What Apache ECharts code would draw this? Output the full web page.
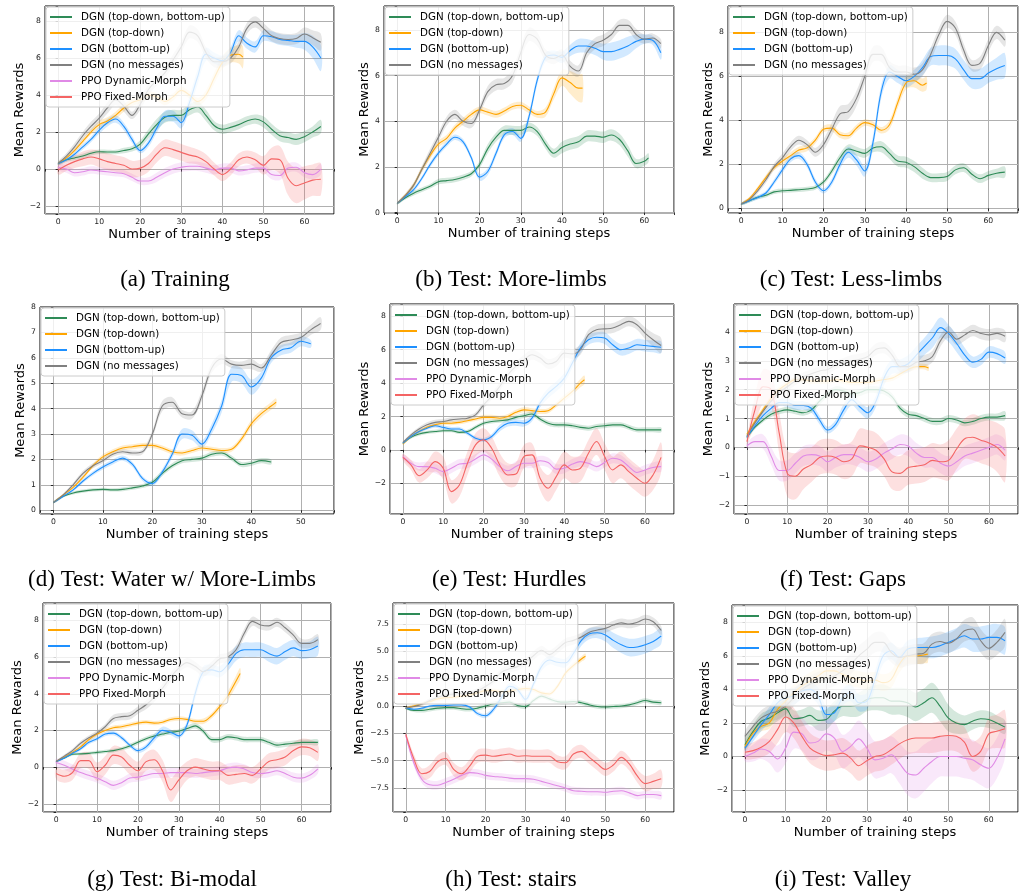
<!DOCTYPE html>
<html>
<head>
<meta charset="utf-8">
<script src="https://cdn.jsdelivr.net/npm/echarts@6/dist/echarts.min.js"></script>
<style>
  html, body { margin: 0; padding: 0; background: #ffffff; }
  #chart { width: 1021px; height: 893px; }
</style>
</head>
<body>
<div id="chart"></div>
<script>
// Mean reward per run, sampled every 2 training steps (the last entry may sit on an odd step).
// Each "...Sd" array is the half-width of the shaded band around the matching mean curve.

// (a) Training
const trainTdBu     = [0.3,0.5,0.6,0.7,0.85,0.93,0.92,0.92,1.0,1.1, 1.35,1.9,2.4,2.8,2.9,2.9,3.2,3.35,2.9,2.35, 2.15,2.25,2.4,2.6,2.7,2.55,2.15,1.8,1.7,1.6, 1.75,2.0,2.3];
const trainTdBuSd   = [0.08,0.1,0.12,0.12,0.12,0.12,0.12,0.12,0.15,0.15, 0.2,0.25,0.3,0.3,0.3,0.3,0.3,0.3,0.3,0.25, 0.25,0.25,0.25,0.25,0.25,0.3,0.3,0.3,0.3,0.3, 0.3,0.3,0.35];
const trainTd       = [0.3,0.6,1.0,1.5,2.0,2.4,2.6,2.9,3.3,3.6, 3.75,4.0,3.9,3.65,3.9,4.25,4.0,3.65,4.0,4.9, 5.75,6.15,6.2,6.05];
const trainTdSd     = [0.08,0.1,0.12,0.15,0.15,0.2,0.2,0.2,0.2,0.2, 0.2,0.2,0.2,0.2,0.2,0.2,0.2,0.2,0.25,0.3, 0.35,0.4,0.5,0.6];
const trainBu       = [0.3,0.5,0.8,1.2,1.6,2.1,2.5,2.7,2.3,1.6, 1.0,1.4,2.2,2.85,2.85,2.5,3.6,5.0,6.2,6.0, 5.85,6.3,7.2,6.8,6.6,7.2,7.15,7.0,6.95,6.9, 6.9,6.6,6.0];
const trainBuSd     = [0.08,0.1,0.12,0.15,0.15,0.2,0.2,0.2,0.2,0.2, 0.15,0.2,0.25,0.3,0.3,0.3,0.35,0.4,0.35,0.3, 0.3,0.3,0.3,0.3,0.3,0.3,0.3,0.3,0.3,0.35, 0.45,0.6,0.7];
const trainNoMsg    = [0.3,0.7,1.2,1.8,2.3,2.75,3.3,3.75,3.4,2.9, 3.5,4.3,4.8,5.2,5.9,6.6,7.4,7.2,6.3,5.8, 5.8,6.0,6.6,7.6,7.95,7.6,7.2,7.05,7.0,7.05, 7.3,7.1,6.85];
const trainNoMsgSd  = [0.1,0.15,0.2,0.2,0.25,0.25,0.3,0.3,0.3,0.2, 0.3,0.3,0.3,0.3,0.3,0.3,0.35,0.35,0.3,0.3, 0.3,0.3,0.3,0.3,0.3,0.3,0.3,0.3,0.3,0.3, 0.35,0.4,0.45];
const trainPpoDyn   = [0.1,0.0,-0.2,-0.15,-0.05,-0.1,-0.15,-0.2,-0.25,-0.45, -0.65,-0.65,-0.45,-0.2,0.0,0.1,0.15,0.15,0.05,-0.05, 0.05,0.05,-0.1,-0.05,0.05,0.05,-0.3,-0.35,0.05,0.1, -0.2,-0.3,0.0];
const trainPpoDynSd = [0.15,0.2,0.2,0.2,0.2,0.2,0.2,0.2,0.2,0.2, 0.2,0.2,0.25,0.25,0.25,0.25,0.25,0.25,0.25,0.25, 0.25,0.25,0.25,0.25,0.25,0.25,0.25,0.25,0.25,0.25, 0.25,0.25,0.3];
const trainPpoFix   = [-0.05,0.2,0.4,0.55,0.65,0.55,0.4,0.3,0.2,0.0, 0.05,0.3,0.8,1.15,1.05,0.9,0.75,0.65,0.4,0.0, -0.3,0.0,0.5,0.65,0.5,0.2,0.55,0.5,-0.5,-0.9, -0.75,-0.6,-0.55];
const trainPpoFixSd = [0.25,0.3,0.35,0.4,0.4,0.45,0.45,0.45,0.45,0.45, 0.45,0.45,0.45,0.45,0.45,0.45,0.45,0.4,0.4,0.35, 0.35,0.35,0.35,0.35,0.4,0.5,0.6,0.75,0.9,0.95, 0.9,0.85,0.85];

// (b) Test: More-limbs
const moreLimbsTdBu    = [0.4,0.65,0.85,1.0,1.15,1.35,1.4,1.45,1.55,1.7, 2.1,2.8,3.3,3.6,3.6,3.6,3.75,3.55,3.0,2.6, 2.85,3.0,3.1,3.35,3.35,3.3,3.4,3.2,2.7,2.15, 2.25,2.4];
const moreLimbsTdBuSd  = [0.05,0.08,0.1,0.1,0.1,0.12,0.12,0.12,0.12,0.12, 0.15,0.2,0.2,0.2,0.2,0.2,0.2,0.2,0.2,0.2, 0.25,0.25,0.25,0.25,0.25,0.25,0.25,0.25,0.25,0.2, 0.2,0.2];
const moreLimbsTd      = [0.4,0.75,1.2,1.9,2.5,3.0,3.25,3.7,4.0,4.3, 4.5,4.4,4.3,4.45,4.65,4.7,4.5,4.3,4.4,5.2, 5.9,5.7,5.45,5.45];
const moreLimbsTdSd    = [0.05,0.08,0.1,0.12,0.15,0.15,0.15,0.15,0.15,0.15, 0.15,0.15,0.15,0.15,0.15,0.15,0.15,0.15,0.2,0.25, 0.35,0.5,0.6,0.6];
const moreLimbsBu      = [0.4,0.7,1.0,1.5,2.1,2.6,3.0,3.3,3.1,2.4, 1.55,1.8,2.6,3.4,3.55,3.25,4.2,5.8,6.8,6.9, 6.8,7.1,7.3,7.3,7.2,7.05,7.05,7.15,7.3,7.5, 7.6,7.55,7.0];
const moreLimbsBuSd    = [0.05,0.08,0.1,0.1,0.12,0.12,0.12,0.12,0.12,0.12, 0.15,0.15,0.15,0.15,0.15,0.15,0.2,0.2,0.2,0.2, 0.25,0.25,0.3,0.3,0.3,0.35,0.4,0.4,0.4,0.3, 0.2,0.2,0.3];
const moreLimbsNoMsg   = [0.4,0.75,1.2,1.9,2.6,3.3,4.0,4.3,4.0,3.9, 4.5,5.3,5.6,5.65,6.0,7.0,7.8,7.6,6.9,6.75, 6.9,6.4,6.2,7.0,7.4,7.55,7.8,8.2,8.2,7.8, 7.6,7.65,7.4];
const moreLimbsNoMsgSd = [0.05,0.1,0.12,0.15,0.2,0.2,0.2,0.2,0.2,0.2, 0.2,0.25,0.25,0.25,0.3,0.3,0.3,0.3,0.25,0.25, 0.25,0.25,0.25,0.25,0.25,0.25,0.25,0.25,0.25,0.25, 0.2,0.2,0.2];

// (c) Test: Less-limbs
const lessLimbsTdBu    = [0.2,0.35,0.5,0.6,0.75,0.8,0.82,0.85,0.88,0.95, 1.2,1.7,2.3,2.7,2.6,2.5,2.75,2.8,2.5,2.15, 2.1,1.9,1.6,1.4,1.4,1.45,1.75,1.85,1.55,1.35, 1.5,1.6,1.65];
const lessLimbsTdBuSd  = [0.05,0.08,0.08,0.1,0.1,0.1,0.1,0.1,0.1,0.1, 0.12,0.15,0.2,0.2,0.2,0.2,0.2,0.25,0.25,0.25, 0.25,0.25,0.25,0.2,0.2,0.2,0.2,0.2,0.2,0.2, 0.2,0.2,0.25];
const lessLimbsTd      = [0.2,0.45,0.9,1.4,1.85,2.15,2.4,2.65,2.75,3.1, 3.6,3.65,3.35,3.3,3.65,3.9,3.8,3.55,3.8,4.8, 5.7,5.8,5.6,5.7];
const lessLimbsTdSd    = [0.05,0.08,0.1,0.12,0.12,0.15,0.15,0.15,0.15,0.15, 0.15,0.15,0.15,0.15,0.15,0.15,0.15,0.15,0.2,0.25, 0.3,0.3,0.3,0.3];
const lessLimbsBu      = [0.2,0.35,0.5,0.7,1.2,1.75,2.25,2.4,2.0,1.2, 0.8,1.2,2.0,2.55,2.2,1.7,3.0,5.3,6.2,6.0, 5.8,6.0,6.4,6.9,6.95,6.95,6.8,6.3,5.9,5.9, 6.15,6.35,6.5];
const lessLimbsBuSd    = [0.05,0.08,0.1,0.1,0.12,0.15,0.15,0.15,0.15,0.15, 0.12,0.15,0.2,0.25,0.25,0.25,0.3,0.3,0.3,0.3, 0.3,0.3,0.35,0.4,0.45,0.45,0.45,0.45,0.45,0.45, 0.45,0.5,0.55];
const lessLimbsNoMsg   = [0.2,0.4,0.8,1.3,1.9,2.3,2.8,3.1,2.9,2.55, 2.9,3.6,4.3,4.4,5.0,6.0,7.0,7.0,6.4,6.2, 6.2,6.1,6.3,7.0,7.9,8.5,8.2,7.2,6.5,6.6, 7.4,8.0,7.65];
const lessLimbsNoMsgSd = [0.05,0.1,0.12,0.15,0.15,0.2,0.2,0.2,0.2,0.2, 0.25,0.3,0.35,0.35,0.35,0.35,0.35,0.35,0.3,0.3, 0.3,0.3,0.3,0.3,0.3,0.3,0.3,0.3,0.25,0.3, 0.3,0.3,0.3];

// (d) Test: Water w/ More-Limbs
const waterTdBu    = [0.3,0.55,0.68,0.75,0.8,0.82,0.8,0.82,0.88,0.95, 1.1,1.45,1.75,1.95,2.0,2.05,2.2,2.25,2.05,1.8, 1.85,1.95,1.9];
const waterTdBuSd  = [0.04,0.05,0.06,0.06,0.06,0.06,0.06,0.07,0.08,0.08, 0.1,0.1,0.1,0.1,0.1,0.1,0.1,0.1,0.1,0.1, 0.1,0.1,0.1];
const waterTd      = [0.3,0.6,0.9,1.3,1.75,2.1,2.3,2.45,2.5,2.55, 2.55,2.45,2.3,2.25,2.35,2.45,2.4,2.35,2.4,2.8, 3.4,3.8,4.1,4.25];
const waterTdSd    = [0.04,0.05,0.06,0.08,0.08,0.1,0.1,0.1,0.1,0.1, 0.1,0.1,0.1,0.1,0.1,0.1,0.1,0.1,0.1,0.12, 0.15,0.15,0.15,0.15];
const waterBu      = [0.3,0.55,0.8,1.15,1.45,1.7,1.9,2.05,1.8,1.25, 1.05,1.5,2.2,3.0,2.95,2.6,3.2,4.1,5.35,5.3, 4.85,5.2,6.0,6.3,6.4,6.65,6.55];
const waterBuSd    = [0.04,0.05,0.06,0.08,0.08,0.1,0.1,0.1,0.1,0.1, 0.1,0.12,0.15,0.2,0.2,0.15,0.2,0.25,0.3,0.3, 0.3,0.25,0.2,0.2,0.2,0.2,0.15];
const waterNoMsg   = [0.3,0.6,1.0,1.45,1.75,1.95,2.2,2.3,2.25,2.3, 3.0,4.1,4.25,3.8,3.75,4.5,5.6,5.95,5.75,5.7, 5.75,5.6,6.1,6.6,6.7,6.8,7.1,7.35];
const waterNoMsgSd = [0.04,0.06,0.08,0.1,0.1,0.1,0.1,0.1,0.1,0.1, 0.15,0.2,0.2,0.15,0.15,0.2,0.2,0.2,0.15,0.15, 0.2,0.15,0.2,0.2,0.2,0.2,0.2,0.25];

// (e) Test: Hurdles
const hurdlesTdBu     = [0.4,0.75,0.95,1.05,1.1,1.15,1.15,1.05,1.1,1.35, 1.6,1.7,1.75,1.8,1.95,2.05,2.15,1.85,1.6,1.5, 1.5,1.45,1.35,1.3,1.4,1.45,1.5,1.5,1.35,1.2, 1.2,1.2,1.2];
const hurdlesTdBuSd   = [0.05,0.08,0.1,0.1,0.1,0.1,0.1,0.1,0.1,0.12, 0.12,0.12,0.12,0.12,0.12,0.15,0.15,0.15,0.15,0.15, 0.15,0.15,0.15,0.15,0.15,0.15,0.15,0.15,0.15,0.15, 0.15,0.15,0.15];
const hurdlesTd       = [0.35,0.8,1.1,1.35,1.5,1.6,1.6,1.65,1.75,1.85, 1.95,1.95,1.9,2.0,2.25,2.4,2.35,2.3,2.35,2.7, 3.1,3.5,4.0,4.2];
const hurdlesTdSd     = [0.05,0.08,0.1,0.1,0.1,0.12,0.12,0.12,0.12,0.12, 0.15,0.15,0.15,0.15,0.15,0.15,0.15,0.15,0.15,0.15, 0.2,0.2,0.25,0.25];
const hurdlesBu       = [0.4,0.8,1.1,1.3,1.45,1.35,1.25,1.25,1.0,0.7, 0.6,0.8,1.3,1.6,1.65,1.6,1.9,2.8,3.4,3.8, 4.3,5.2,6.1,6.6,6.75,6.7,6.3,6.0,6.1,6.3, 6.25,6.2,6.15];
const hurdlesBuSd     = [0.05,0.08,0.1,0.1,0.12,0.12,0.12,0.12,0.12,0.12, 0.12,0.15,0.2,0.2,0.2,0.2,0.2,0.25,0.3,0.3, 0.3,0.3,0.3,0.3,0.3,0.35,0.35,0.35,0.35,0.35, 0.35,0.35,0.35];
const hurdlesNoMsg    = [0.45,0.9,1.25,1.5,1.65,1.7,1.8,1.85,1.9,2.1, 2.7,3.2,3.8,4.5,5.0,5.4,5.7,5.5,5.15,5.3, 5.8,5.75,6.0,6.9,7.2,7.25,7.3,7.5,7.7,7.5, 7.0,6.6,6.25];
const hurdlesNoMsgSd  = [0.05,0.1,0.12,0.15,0.15,0.15,0.15,0.15,0.15,0.15, 0.2,0.2,0.25,0.25,0.25,0.3,0.3,0.3,0.3,0.3, 0.3,0.3,0.3,0.3,0.3,0.3,0.3,0.3,0.3,0.3, 0.35,0.4,0.45];
const hurdlesPpoDyn   = [-0.4,-0.8,-1.0,-1.0,-1.1,-1.3,-1.1,-0.85,-0.8,-0.55, -0.3,-0.55,-1.0,-1.25,-1.0,-0.8,-0.8,-0.65,-0.75,-1.15, -1.1,-0.85,-0.7,-0.8,-1.0,-0.75,-0.5,-0.6,-1.0,-1.35, -1.2,-1.05,-1.0];
const hurdlesPpoDynSd = [0.15,0.2,0.25,0.3,0.3,0.3,0.3,0.3,0.3,0.3, 0.3,0.3,0.3,0.3,0.3,0.3,0.3,0.3,0.3,0.3, 0.3,0.3,0.3,0.3,0.3,0.3,0.3,0.3,0.3,0.3, 0.3,0.3,0.3];
const hurdlesPpoFix   = [-0.45,-0.9,-1.55,-1.2,-0.7,-1.1,-2.5,-2.1,-0.8,0.3, 0.6,0.1,-0.9,-1.5,-1.45,-0.4,-0.3,-1.7,-2.3,-1.6, -0.9,-1.2,-1.1,-0.2,0.5,-0.4,-1.2,-0.9,-1.3,-1.7, -2.0,-1.5,-0.45];
const hurdlesPpoFixSd = [0.2,0.3,0.4,0.5,0.6,0.7,0.7,0.7,0.7,0.7, 0.7,0.7,0.7,0.7,0.7,0.7,0.7,0.7,0.8,0.8, 0.8,0.8,0.8,0.8,0.8,0.8,0.8,0.8,0.8,0.8, 0.8,0.9,0.9];

// (f) Test: Gaps
const gapsTdBu     = [0.35,0.7,0.95,1.15,1.25,1.3,1.25,1.2,1.3,1.6, 1.85,2.0,1.95,1.85,1.9,2.0,2.0,1.95,1.75,1.35, 1.15,1.1,1.0,0.9,0.9,1.0,0.95,0.85,0.9,1.0, 1.05,1.05,1.1];
const gapsTdBuSd   = [0.05,0.07,0.08,0.1,0.1,0.1,0.1,0.1,0.1,0.12, 0.12,0.12,0.12,0.12,0.12,0.12,0.12,0.12,0.12,0.12, 0.12,0.12,0.12,0.12,0.12,0.12,0.12,0.12,0.12,0.12, 0.12,0.12,0.15];
const gapsTd       = [0.45,0.9,1.3,1.7,2.0,2.2,2.35,2.35,2.3,2.3, 2.3,2.35,2.3,2.25,2.25,2.25,2.3,2.35,2.4,2.55, 2.7,2.8,2.8,2.75];
const gapsTdSd     = [0.05,0.08,0.1,0.1,0.1,0.1,0.1,0.1,0.1,0.1, 0.1,0.1,0.1,0.1,0.1,0.1,0.1,0.1,0.1,0.1, 0.1,0.1,0.1,0.1];
const gapsBu       = [0.35,0.75,1.1,1.35,1.55,1.55,1.45,1.45,1.35,0.95, 0.6,0.8,1.3,1.65,1.4,1.2,1.6,2.4,2.8,2.8, 2.9,3.2,3.5,3.8,4.15,3.95,3.6,3.2,2.95,3.05, 3.3,3.25,3.1];
const gapsBuSd     = [0.05,0.08,0.1,0.12,0.12,0.15,0.15,0.15,0.15,0.15, 0.12,0.15,0.2,0.2,0.2,0.2,0.2,0.25,0.25,0.25, 0.3,0.3,0.3,0.35,0.35,0.3,0.3,0.25,0.2,0.2, 0.2,0.2,0.2];
const gapsNoMsg    = [0.4,0.85,1.25,1.6,1.9,2.1,2.3,2.45,2.55,2.65, 2.7,2.85,2.95,3.0,3.05,3.15,3.4,3.45,3.2,2.8, 2.8,2.95,3.0,3.15,3.7,4.0,3.75,3.9,4.05,3.95, 3.9,3.95,3.85];
const gapsNoMsgSd  = [0.05,0.08,0.1,0.12,0.12,0.15,0.15,0.15,0.15,0.15, 0.15,0.15,0.15,0.2,0.2,0.2,0.2,0.2,0.2,0.2, 0.2,0.2,0.2,0.2,0.2,0.2,0.2,0.2,0.2,0.2, 0.2,0.2,0.2];
const gapsPpoDyn   = [0.05,0.2,0.2,-0.3,-0.8,-0.8,-0.55,-0.3,-0.25,-0.3, -0.5,-0.35,-0.25,-0.25,-0.35,-0.5,-0.4,-0.2,-0.05,0.1, 0.05,-0.2,-0.35,-0.35,-0.55,-0.65,-0.5,-0.3,-0.2,-0.1, 0.0,0.1,-0.1];
const gapsPpoDynSd = [0.1,0.2,0.25,0.3,0.35,0.35,0.35,0.35,0.35,0.35, 0.35,0.35,0.35,0.35,0.35,0.35,0.35,0.35,0.35,0.35, 0.35,0.35,0.35,0.35,0.35,0.35,0.35,0.35,0.35,0.35, 0.35,0.35,0.35];
const gapsPpoFix   = [0.2,1.3,2.1,2.0,0.5,-0.9,-1.0,-0.75,-0.6,-0.35, -0.3,-0.35,-0.5,-0.4,0.05,0.0,-0.1,-0.4,-0.85,-0.9, -0.7,-0.65,-0.6,-0.45,-0.5,-0.45,-0.05,0.3,0.35,0.25, 0.15,0.0,-0.3];
const gapsPpoFixSd = [0.1,0.5,0.6,0.6,0.7,0.8,0.8,0.7,0.6,0.6, 0.6,0.6,0.6,0.6,0.6,0.6,0.6,0.6,0.6,0.6, 0.6,0.6,0.6,0.6,0.6,0.7,0.7,0.7,0.8,0.8, 0.8,0.85,0.9];

// (g) Test: Bi-modal
const bimodalTdBu     = [0.3,0.5,0.7,0.72,0.75,0.8,0.85,0.9,1.0,1.15, 1.35,1.55,1.7,1.8,1.9,1.95,2.1,2.25,1.95,1.5, 1.5,1.65,1.6,1.5,1.5,1.5,1.35,1.2,1.25,1.3, 1.35,1.35,1.35];
const bimodalTdBuSd   = [0.05,0.06,0.08,0.08,0.08,0.1,0.1,0.1,0.1,0.12, 0.12,0.12,0.12,0.12,0.12,0.12,0.15,0.15,0.15,0.15, 0.15,0.15,0.15,0.15,0.15,0.15,0.15,0.15,0.15,0.15, 0.15,0.15,0.15];
const bimodalTd       = [0.3,0.55,0.8,1.1,1.5,1.8,2.0,2.15,2.2,2.3, 2.4,2.45,2.4,2.45,2.6,2.65,2.6,2.5,2.5,2.8, 3.3,3.9,4.7,5.1];
const bimodalTdSd     = [0.05,0.06,0.08,0.1,0.12,0.12,0.12,0.12,0.12,0.12, 0.12,0.12,0.12,0.12,0.12,0.12,0.12,0.12,0.15,0.15, 0.2,0.25,0.3,0.3];
const bimodalBu       = [0.3,0.5,0.75,1.0,1.35,1.55,1.8,1.85,1.6,1.2, 0.9,1.1,1.6,2.0,1.9,1.7,2.3,4.0,5.2,5.3, 5.2,5.6,6.2,6.4,6.4,6.4,6.2,6.05,6.3,6.5, 6.35,6.4,6.6];
const bimodalBuSd     = [0.05,0.06,0.08,0.1,0.12,0.12,0.12,0.12,0.12,0.12, 0.12,0.15,0.2,0.2,0.15,0.15,0.2,0.3,0.3,0.3, 0.3,0.35,0.4,0.4,0.4,0.4,0.45,0.45,0.45,0.45, 0.45,0.45,0.5];
const bimodalNoMsg    = [0.3,0.6,0.9,1.3,1.6,1.85,2.2,2.65,2.75,2.8, 3.1,3.4,3.8,4.3,4.9,5.4,5.7,5.5,5.2,5.5, 5.9,6.0,6.4,7.3,7.95,7.75,7.7,7.9,7.6,7.2, 6.75,6.75,6.95];
const bimodalNoMsgSd  = [0.05,0.08,0.1,0.12,0.12,0.15,0.15,0.2,0.2,0.2, 0.2,0.25,0.25,0.25,0.25,0.25,0.25,0.25,0.25,0.25, 0.25,0.25,0.25,0.25,0.25,0.25,0.25,0.25,0.25,0.25, 0.25,0.25,0.3];
const bimodalPpoDyn   = [0.25,0.1,-0.1,-0.3,-0.45,-0.6,-0.8,-1.0,-0.85,-0.6, -0.55,-0.45,-0.35,-0.35,-0.3,-0.3,-0.3,-0.35,-0.3,-0.25, -0.2,-0.05,0.0,-0.1,-0.3,-0.35,-0.3,-0.2,-0.35,-0.55, -0.6,-0.45,-0.1];
const bimodalPpoDynSd = [0.2,0.25,0.25,0.25,0.25,0.25,0.25,0.25,0.25,0.25, 0.25,0.25,0.25,0.25,0.25,0.25,0.25,0.25,0.25,0.25, 0.25,0.25,0.25,0.25,0.25,0.25,0.25,0.25,0.25,0.25, 0.25,0.25,0.25];
const bimodalPpoFix   = [-0.35,-0.5,-0.3,0.35,0.35,-0.25,0.1,0.65,0.55,0.1, -0.2,0.3,0.4,-0.2,-1.25,-0.7,-0.2,0.0,-0.1,-0.2, -0.2,-0.45,-0.4,-0.35,-0.45,-0.1,0.3,0.4,0.55,0.9, 1.1,1.05,0.8];
const bimodalPpoFixSd = [0.3,0.35,0.4,0.4,0.45,0.5,0.5,0.5,0.5,0.5, 0.5,0.5,0.55,0.6,0.65,0.6,0.5,0.5,0.5,0.5, 0.5,0.5,0.5,0.45,0.45,0.45,0.45,0.45,0.45,0.45, 0.45,0.45,0.45];

// (h) Test: stairs
const stairsTdBu     = [-0.2,-0.4,-0.4,-0.3,-0.2,-0.15,-0.15,-0.25,-0.3,-0.2, 0.0,0.2,0.3,0.35,0.05,-0.05,0.5,0.9,0.65,0.4, 0.35,0.4,0.3,0.1,-0.05,-0.1,-0.05,0.0,0.1,0.3, 0.5,0.35,0.3];
const stairsTdBuSd   = [0.1,0.15,0.2,0.2,0.2,0.2,0.2,0.2,0.2,0.2, 0.2,0.2,0.2,0.2,0.2,0.2,0.2,0.2,0.2,0.2, 0.2,0.2,0.2,0.2,0.2,0.2,0.2,0.2,0.2,0.2, 0.2,0.2,0.2];
const stairsTd       = [-0.2,0.0,0.2,0.4,0.65,0.75,0.8,0.9,1.0,1.2, 1.4,1.4,1.3,1.35,1.5,1.6,1.5,1.2,1.1,1.8, 3.0,3.7,4.3,4.55];
const stairsTdSd     = [0.1,0.15,0.15,0.2,0.2,0.2,0.2,0.2,0.2,0.2, 0.2,0.2,0.2,0.2,0.2,0.2,0.2,0.2,0.2,0.2, 0.25,0.25,0.25,0.25];
const stairsBu       = [-0.2,-0.3,-0.2,0.0,0.05,0.05,0.1,0.1,-0.1,-0.7, -0.9,-0.3,0.8,1.8,1.5,0.6,2.0,3.6,4.2,4.0, 3.95,4.8,6.0,6.6,6.7,6.5,6.0,5.6,5.35,5.4, 5.6,5.9,6.4];
const stairsBuSd     = [0.1,0.1,0.1,0.1,0.1,0.1,0.1,0.1,0.15,0.2, 0.2,0.25,0.3,0.3,0.3,0.3,0.35,0.4,0.4,0.4, 0.4,0.4,0.5,0.5,0.5,0.6,0.7,0.75,0.8,0.8, 0.8,0.75,0.7];
const stairsNoMsg    = [-0.2,-0.05,0.15,0.5,0.8,1.0,1.1,1.15,1.2,1.4, 1.8,2.3,3.1,3.4,3.6,4.0,4.6,5.1,4.7,5.2, 5.8,6.0,6.3,6.75,6.95,7.1,7.4,7.6,7.5,7.65, 7.95,7.7,6.9];
const stairsNoMsgSd  = [0.1,0.15,0.15,0.2,0.2,0.2,0.2,0.2,0.2,0.25, 0.3,0.3,0.35,0.35,0.35,0.35,0.4,0.4,0.4,0.4, 0.4,0.4,0.4,0.4,0.4,0.4,0.4,0.4,0.4,0.4, 0.4,0.4,0.4];
const stairsPpoDyn   = [-2.7,-5.2,-6.7,-7.2,-7.25,-7.0,-6.7,-6.35,-6.1,-6.15, -6.35,-6.45,-6.5,-6.6,-6.65,-6.65,-6.7,-6.9,-7.1,-7.3, -7.5,-7.75,-7.8,-7.85,-7.85,-7.9,-7.8,-7.75,-7.95,-8.2, -8.1,-8.1,-8.2];
const stairsPpoDynSd = [0.2,0.3,0.35,0.4,0.4,0.4,0.4,0.4,0.35,0.35, 0.35,0.35,0.35,0.35,0.35,0.35,0.35,0.35,0.35,0.35, 0.35,0.35,0.35,0.35,0.35,0.35,0.35,0.35,0.35,0.35, 0.35,0.35,0.35];
const stairsPpoFix   = [-2.6,-4.8,-6.2,-6.0,-5.1,-4.8,-5.8,-6.2,-5.5,-4.6, -4.5,-4.6,-4.5,-4.4,-4.6,-4.55,-4.6,-4.6,-4.6,-5.1, -5.2,-4.4,-4.15,-4.7,-5.3,-5.8,-5.4,-4.7,-5.3,-6.4, -7.1,-6.9,-6.65];
const stairsPpoFixSd = [0.2,0.4,0.5,0.6,0.6,0.6,0.6,0.6,0.6,0.6, 0.6,0.6,0.6,0.6,0.6,0.6,0.6,0.6,0.6,0.6, 0.6,0.6,0.6,0.6,0.6,0.6,0.6,0.6,0.6,0.6, 0.7,0.7,0.8];

// (i) Test: Valley
const valleyTdBu     = [0.7,1.5,2.1,2.3,2.6,2.85,2.25,2.3,2.45,2.15, 2.2,2.7,3.0,3.0,3.1,3.4,3.5,3.5,3.3,3.3, 3.2,2.95,3.2,3.5,3.0,2.3,2.0,1.9,2.1,2.25, 2.2,2.0,1.75];
const valleyTdBuSd   = [0.3,0.4,0.45,0.5,0.5,0.5,0.5,0.5,0.55,0.6, 0.6,0.6,0.6,0.65,0.7,0.7,0.75,0.8,0.8,0.8, 0.85,0.85,0.85,0.9,0.9,0.8,0.65,0.55,0.5,0.5, 0.5,0.45,0.4];
const valleyTd       = [0.6,1.4,1.8,2.0,2.8,3.3,3.8,4.2,4.5,4.8, 5.1,5.1,4.9,4.7,4.6,4.5,4.55,4.4,4.6,5.5, 6.0,6.0,6.05,6.1];
const valleyTdSd     = [0.2,0.3,0.3,0.35,0.4,0.45,0.5,0.5,0.5,0.5, 0.5,0.5,0.5,0.5,0.5,0.5,0.5,0.5,0.5,0.5, 0.5,0.5,0.5,0.5];
const valleyBu       = [0.5,1.2,1.9,2.5,3.2,3.5,3.6,3.9,4.0,3.6, 2.5,2.6,3.5,3.8,3.2,3.3,4.6,6.0,6.3,5.9, 6.4,6.5,6.5,6.5,6.6,6.8,7.0,7.2,7.0,7.0, 7.1,7.1,6.9];
const valleyBuSd     = [0.2,0.3,0.4,0.45,0.5,0.5,0.5,0.5,0.5,0.5, 0.5,0.5,0.5,0.5,0.5,0.5,0.5,0.5,0.5,0.5, 0.5,0.55,0.6,0.65,0.65,0.65,0.65,0.7,0.75,0.75, 0.75,0.8,0.8];
const valleyNoMsg    = [1.2,1.8,2.3,2.55,2.7,3.0,3.5,4.0,4.3,4.5, 4.6,4.8,5.1,5.5,6.0,6.4,6.8,6.8,6.2,5.9, 6.0,6.1,6.15,6.7,6.85,6.75,7.0,7.5,7.6,6.9, 6.45,6.8,7.4];
const valleyNoMsgSd  = [0.3,0.4,0.45,0.5,0.5,0.5,0.5,0.5,0.5,0.55, 0.6,0.6,0.6,0.6,0.6,0.6,0.6,0.6,0.6,0.6, 0.6,0.6,0.6,0.6,0.6,0.6,0.6,0.65,0.7,0.7, 0.7,0.75,0.8];
const valleyPpoDyn   = [0.0,0.2,0.45,0.3,-0.15,0.5,1.45,1.35,0.8,0.9, 1.35,1.1,0.3,0.6,1.05,0.5,-0.2,-0.1,0.1,-0.4, -1.0,-1.1,-0.7,-0.3,0.0,0.0,0.0,-0.1,-0.2,-0.5, -0.7,-0.1,1.05];
const valleyPpoDynSd = [0.3,0.5,0.6,0.7,0.8,0.9,1.0,1.0,1.0,1.0, 1.0,1.0,1.0,1.0,1.1,1.1,1.1,1.1,1.1,1.2, 1.3,1.4,1.4,1.3,1.2,1.2,1.2,1.2,1.2,1.2, 1.2,1.2,1.1];
const valleyPpoFix   = [0.25,0.35,0.55,0.9,1.6,2.35,2.0,1.2,0.5,0.2, 0.05,0.1,0.2,-0.1,-0.55,-0.25,0.0,0.1,0.4,0.75, 1.0,1.1,1.1,1.1,1.2,1.25,1.2,0.85,0.0,0.3, 1.35,1.5,1.65];
const valleyPpoFixSd = [0.4,0.5,0.6,0.7,0.8,0.9,0.9,0.9,0.9,0.9, 0.9,0.9,0.9,0.9,0.9,0.9,0.9,0.9,0.9,0.9, 0.9,0.9,0.9,0.9,0.9,0.9,0.9,0.9,0.9,0.9, 0.95,1.0,1.1];

// Series labels and colours
const SERIES_NAMES = {
  tdbu: 'DGN (top-down, bottom-up)',
  td: 'DGN (top-down)',
  bu: 'DGN (bottom-up)',
  nomsg: 'DGN (no messages)',
  dyn: 'PPO Dynamic-Morph',
  fix: 'PPO Fixed-Morph'
};
const SERIES_COLORS = {
  tdbu: '#2E8B57',
  td: '#FFA500',
  bu: '#1E90FF',
  nomsg: '#808080',
  dyn: '#E08AE6',
  fix: '#F46464'
};

// Panel layout: plot box [left, top, width, height], axis ranges, y tick step, caption placement.
const panels = [
  { caption: '(a) Training', capX: 175, capY: 280, box: [45, 6, 289, 208], xr: [-3.2, 67.2], yr: [-2.43, 8.81], yStep: 2, yGap: 18,
    runs: [['tdbu', trainTdBu, trainTdBuSd, 64], ['td', trainTd, trainTdSd, 45], ['bu', trainBu, trainBuSd, 64],
           ['nomsg', trainNoMsg, trainNoMsgSd, 64], ['dyn', trainPpoDyn, trainPpoDynSd, 64], ['fix', trainPpoFix, trainPpoFixSd, 64]] },
  { caption: '(b) Test: More-limbs', capX: 511, capY: 280, box: [384, 6, 290, 207], xr: [-3.2, 67.2], yr: [-0.02, 9.05], yStep: 2, yGap: 11,
    runs: [['tdbu', moreLimbsTdBu, moreLimbsTdBuSd, 61], ['td', moreLimbsTd, moreLimbsTdSd, 45],
           ['bu', moreLimbsBu, moreLimbsBuSd, 64], ['nomsg', moreLimbsNoMsg, moreLimbsNoMsgSd, 64]] },
  { caption: '(c) Test: Less-limbs', capX: 851, capY: 280, box: [728, 6, 295, 207], xr: [-3.2, 67.2], yr: [-0.21, 9.2], yStep: 2, yGap: 13,
    runs: [['tdbu', lessLimbsTdBu, lessLimbsTdBuSd, 64], ['td', lessLimbsTd, lessLimbsTdSd, 45],
           ['bu', lessLimbsBu, lessLimbsBuSd, 64], ['nomsg', lessLimbsNoMsg, lessLimbsNoMsgSd, 64]] },
  { caption: '(d) Test: Water w/ More-Limbs', capX: 172, capY: 580, box: [40, 307, 294, 207], xr: [-2.7, 56.7], yr: [-0.15, 8.0], yStep: 1, yGap: 13,
    runs: [['tdbu', waterTdBu, waterTdBuSd, 44], ['td', waterTd, waterTdSd, 45],
           ['bu', waterBu, waterBuSd, 52], ['nomsg', waterNoMsg, waterNoMsgSd, 54]] },
  { caption: '(e) Test: Hurdles', capX: 509, capY: 580, box: [390, 304, 284, 210], xr: [-3.2, 67.2], yr: [-3.84, 8.74], yStep: 2, yGap: 18,
    runs: [['tdbu', hurdlesTdBu, hurdlesTdBuSd, 64], ['td', hurdlesTd, hurdlesTdSd, 45], ['bu', hurdlesBu, hurdlesBuSd, 64],
           ['nomsg', hurdlesNoMsg, hurdlesNoMsgSd, 64], ['dyn', hurdlesPpoDyn, hurdlesPpoDynSd, 64], ['fix', hurdlesPpoFix, hurdlesPpoFixSd, 64]] },
  { caption: '(f) Test: Gaps', capX: 843, capY: 580, box: [734, 304, 287, 210], xr: [-3.2, 67.2], yr: [-2.31, 4.97], yStep: 1, yGap: 19,
    runs: [['tdbu', gapsTdBu, gapsTdBuSd, 64], ['td', gapsTd, gapsTdSd, 45], ['bu', gapsBu, gapsBuSd, 64],
           ['nomsg', gapsNoMsg, gapsNoMsgSd, 64], ['dyn', gapsPpoDyn, gapsPpoDynSd, 64], ['fix', gapsPpoFix, gapsPpoFixSd, 64]] },
  { caption: '(g) Test: Bi-modal', capX: 172, capY: 880, box: [43, 603, 288, 209], xr: [-3.2, 67.2], yr: [-2.45, 8.95], yStep: 2, yGap: 16,
    runs: [['tdbu', bimodalTdBu, bimodalTdBuSd, 64], ['td', bimodalTd, bimodalTdSd, 45], ['bu', bimodalBu, bimodalBuSd, 64],
           ['nomsg', bimodalNoMsg, bimodalNoMsgSd, 64], ['dyn', bimodalPpoDyn, bimodalPpoDynSd, 64], ['fix', bimodalPpoFix, bimodalPpoFixSd, 64]] },
  { caption: '(h) Test: stairs', capX: 511, capY: 880, box: [393, 603, 281, 209], xr: [-3.2, 67.2], yr: [-9.7, 9.42], yStep: 2.5, yGap: 27, yDigits: 1,
    runs: [['tdbu', stairsTdBu, stairsTdBuSd, 64], ['td', stairsTd, stairsTdSd, 45], ['bu', stairsBu, stairsBuSd, 64],
           ['nomsg', stairsNoMsg, stairsNoMsgSd, 64], ['dyn', stairsPpoDyn, stairsPpoDynSd, 64], ['fix', stairsPpoFix, stairsPpoFixSd, 64]] },
  { caption: '(i) Test: Valley', capX: 843, capY: 880, box: [732, 605, 289, 207], xr: [-3.2, 67.2], yr: [-3.31, 9.03], yStep: 2, yGap: 20,
    runs: [['tdbu', valleyTdBu, valleyTdBuSd, 64], ['td', valleyTd, valleyTdSd, 45], ['bu', valleyBu, valleyBuSd, 64],
           ['nomsg', valleyNoMsg, valleyNoMsgSd, 64], ['dyn', valleyPpoDyn, valleyPpoDynSd, 64], ['fix', valleyPpoFix, valleyPpoFixSd, 64]] }
];

const SANS = 'DejaVu Sans';
const SERIF = 'Liberation Serif';
const SMOOTH = 0.35;
// Legend key: a 22px stroke followed by a little blank space before the label.
const LEGEND_KEY = 'path://M0,0H22V2H0Z M25.99,0H26V0.01H25.99Z';

// Training step of each sample: every 2 steps, with the last sample on its own step.
function stepsOf(count, lastStep) {
  const xs = [];
  for (let i = 0; i < count; i++) xs.push(i === count - 1 ? lastStep : 2 * i);
  return xs;
}

// Tick labels only on multiples of the step, with a true minus sign.
function tickFormatter(step, digits) {
  return function (v) {
    const k = v / step;
    if (Math.abs(k - Math.round(k)) > 1e-6) return '';
    let s = digits ? v.toFixed(digits) : String(Math.round(v));
    if (/^-0(\.0+)?$/.test(s)) s = s.slice(1);
    return s.replace('-', '\u2212');
  };
}

const grids = [], xAxes = [], yAxes = [], series = [], legends = [], graphics = [];

panels.forEach(function (p, i) {
  const [left, top, width, height] = p.box;
  grids.push({ left: left, top: top, width: width, height: height, show: true,
               borderColor: '#000', borderWidth: 1, backgroundColor: 'transparent' });

  const tickLabelStyle = { fontFamily: SANS, fontSize: 7.7, color: '#222' };
  const gridLine = { show: true, lineStyle: { color: '#b0b0b0', width: 1, type: 'solid' } };

  xAxes.push({
    gridIndex: i, type: 'value', min: p.xr[0], max: p.xr[1],
    minInterval: 10, maxInterval: 10, splitNumber: 7,
    axisLine: { show: false },
    axisTick: { show: true, length: 2.5, lineStyle: { color: '#000', width: 0.8 } },
    axisLabel: Object.assign({ margin: 4, formatter: tickFormatter(10, 0), showMinLabel: true, showMaxLabel: true }, tickLabelStyle),
    splitLine: gridLine,
    name: 'Number of training steps', nameLocation: 'middle', nameGap: 14,
    nameTextStyle: { fontFamily: SANS, fontSize: 13, color: '#000' }
  });

  yAxes.push({
    gridIndex: i, type: 'value', min: p.yr[0], max: p.yr[1],
    minInterval: p.yStep, maxInterval: p.yStep, splitNumber: 6,
    axisLine: { show: false },
    axisTick: { show: true, length: 2.5, lineStyle: { color: '#000', width: 0.8 } },
    axisLabel: Object.assign({ margin: 4, formatter: tickFormatter(p.yStep, p.yDigits || 0), showMinLabel: true, showMaxLabel: true }, tickLabelStyle),
    splitLine: gridLine,
    name: 'Mean Rewards', nameLocation: 'middle', nameGap: p.yGap,
    nameTextStyle: { fontFamily: SANS, fontSize: 13, color: '#000' }
  });

  const bands = [], lines = [];
  p.runs.forEach(function (run) {
    const key = run[0], mean = run[1], sd = run[2];
    const xs = stepsOf(mean.length, run[3]);
    const lo = mean.map(function (m, j) { return m - sd[j]; });
    const hi = mean.map(function (m, j) { return m + sd[j]; });
    const color = SERIES_COLORS[key];

    // Shaded spread: one closed polygon through the upper edge and back along the lower edge.
    bands.push({
      type: 'custom', name: 'spread', xAxisIndex: i, yAxisIndex: i, silent: true, z: 1,
      animation: false,
      data: xs.map(function (x, j) { return [x, lo[j], hi[j]]; }),
      encode: { x: 0, y: [1, 2] },
      renderItem: function (params, api) {
        if (params.dataIndex !== 0) return null;
        const upper = xs.map(function (x, j) { return api.coord([x, hi[j]]); });
        const lower = xs.map(function (x, j) { return api.coord([x, lo[j]]); }).reverse();
        return {
          type: 'polygon',
          shape: { points: upper.concat(lower), smooth: SMOOTH },
          style: { fill: color, opacity: 0.2 }
        };
      }
    });

    lines.push({
      type: 'line', name: SERIES_NAMES[key], xAxisIndex: i, yAxisIndex: i,
      data: xs.map(function (x, j) { return [x, mean[j]]; }),
      smooth: SMOOTH, symbol: 'none', showSymbol: false, silent: true, z: 3,
      animation: false,
      lineStyle: { width: 1.1, color: color },
      itemStyle: { color: color }
    });
  });
  series.push.apply(series, bands);
  series.push.apply(series, lines);

  legends.push({
    data: p.runs.map(function (r) { return SERIES_NAMES[r[0]]; }),
    orient: 'vertical', left: left + 1, top: top + 1,
    padding: [4, 5, 4, 4], itemGap: 4, itemWidth: 26, itemHeight: 2, icon: LEGEND_KEY,
    selectedMode: false, z: 10,
    backgroundColor: 'rgba(255,255,255,0.8)', borderColor: '#cccccc', borderWidth: 1, borderRadius: 3,
    textStyle: { fontFamily: SANS, fontSize: 10.3, color: '#000', lineHeight: 12 }
  });

  graphics.push({
    type: 'text', x: p.capX, y: p.capY, silent: true,
    style: { text: p.caption, font: '23px "' + SERIF + '"', fill: '#000', align: 'center', verticalAlign: 'middle' }
  });
});

const chart = echarts.init(document.getElementById('chart'), null, { renderer: 'canvas', devicePixelRatio: 1 });
chart.setOption({
  animation: false,
  backgroundColor: '#ffffff',
  grid: grids,
  xAxis: xAxes,
  yAxis: yAxes,
  legend: legends,
  series: series,
  graphic: graphics
});
</script>
</body>
</html>
